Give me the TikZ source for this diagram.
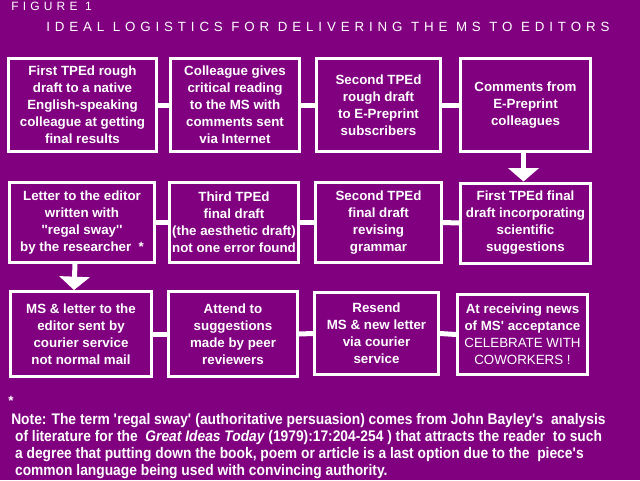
\documentclass[tikz,border=0pt]{standalone}
\usepackage{fontspec}
\setmainfont{Liberation Sans}
\newfontfamily\spacedfont[LetterSpace=35]{Liberation Sans}
\newfontfamily\widefont[LetterSpace=36.5]{Liberation Sans}
\newfontfamily\notefont[FakeStretch=0.9]{Liberation Sans}
\usetikzlibrary{%
  arrows.meta,%
  positioning%
}
\definecolor{figpurple}{HTML}{800080}
\newcommand{\q}{\textquotesingle}

\begin{document}
\begin{tikzpicture}[
  x=0.75pt, y=-0.75pt,
  color=white,
  font=\bfseries\fontsize{10pt}{12.75pt}\selectfont,
  >={Triangle[width=22.5pt,length=10pt]},
  stagebox/.style={draw=white, line width=2.25pt, fill=figpurple,
    align=center, inner sep=0pt},
  rowone/.style={stagebox, minimum height=69.75pt},
  rowtwo/.style={stagebox, minimum height=60pt},
  rowthree/.style={stagebox, minimum height=63.75pt},
  link/.style={line width=3.75pt},
]

% background and page size
\fill[figpurple] (0,0) rectangle (640,480);
\useasboundingbox (0,0) rectangle (640,480);

% titles
\node[anchor=base west, inner sep=0pt, font=\spacedfont\fontsize{9pt}{11pt}\selectfont]
  (fig) at (11,10) {FIGURE 1};
\node[anchor=base west, inner sep=0pt, font=\widefont\fontsize{10pt}{12pt}\selectfont]
  (title) at (46,31) {IDEAL LOGISTICS FOR DELIVERING THE MS TO EDITORS};

% first row
\node[rowone, minimum width=111pt] (b1) at (82.5,105)
  {First TPEd rough\\draft to a native\\English-speaking\\colleague at getting\\final results};
\node[rowone, minimum width=96.75pt] (b2) at (235,105)
  {Colleague gives\\critical reading\\to the MS with\\comments sent\\via Internet};
\node[rowone, minimum width=93pt] (b3) at (378.5,105)
  {Second TPEd\\rough draft\\to E-Preprint\\subscribers};
\node[rowone, minimum width=97.5pt] (b4) at (525.5,105)
  {Comments from\\E-Preprint\\colleagues};

% second row
\node[rowtwo, minimum width=108.75pt] (b5) at (82,222.5)
  {Letter to the editor\\written with\\\q\q regal sway\q\q\\by the researcher\ \ *};
\node[rowtwo, minimum width=96.75pt] (b6) at (234,222.5)
  {Third TPEd\\final draft\\(the aesthetic draft)\\not one error found};
\node[rowtwo, minimum width=94.5pt] (b7) at (378.5,222.5)
  {Second TPEd\\final draft\\revising\\grammar};
\node[rowtwo, minimum width=97.5pt] (b8) at (525.5,223)
  {First TPEd final\\draft incorporating\\scientific\\suggestions};

% third row
\node[rowthree, minimum width=105.75pt] (b9) at (81,334)
  {MS \& letter to the\\editor sent by\\courier service\\not normal mail};
\node[rowthree, minimum width=96.75pt] (b10) at (233,334)
  {Attend to\\suggestions\\made by peer\\reviewers};
\node[rowthree, minimum width=93pt, minimum height=61.5pt] (b11) at (376.5,333.5)
  {Resend\\MS \& new letter\\via courier\\service};
\node[rowthree, minimum width=97.5pt, minimum height=60pt] (b12) at (522.5,334.5)
  {At receiving news\\of MS\q{} acceptance\\{\mdseries CELEBRATE WITH}\\{\mdseries COWORKERS !}};

% connectors
\draw[link] (b1.east) -- (b2.west);
\draw[link] (b2.east) -- (b3.west);
\draw[link] (b3.east) -- (b4.west);
\draw[link] (b5.east) -- (b6.west);
\draw[link] (b6.east) -- (b7.west);
\draw[link] (b7.east) -- (b8.west);
\draw[link] (b9.east) -- (b10.west);
\draw[link] (b10.east) -- (b11.west);
\draw[link] (b11.east) -- (b12.west);
\draw[link,->] ([xshift=-1.5pt]b4.south) -- ([xshift=-1.5pt]b8.north);
\draw[link,->] ([xshift=-5.25pt]b5.south) -- ([xshift=-5.25pt]b9.north);

% footnote
\node[anchor=base west, inner sep=0pt] (star) at (8,405) {*};
\node[anchor=north west, inner sep=0pt, align=left,
  font=\notefont\bfseries\fontsize{11.5pt}{12.75pt}\selectfont] (note) at (11,413)
  {Note: The term \q{}regal sway\q{} (authoritative persuasion) comes from John Bayley\q{}s\ \ analysis\\
  \ of literature for the \ {\itshape Great Ideas Today} (1979):17:204-254 ) that attracts the reader\ \ to such\\
  \ a degree that putting down the book, poem or article is a last option due to the\ \ piece\q{}s\\
  \ common language being used with convincing authority.};

\end{tikzpicture}
\end{document}
